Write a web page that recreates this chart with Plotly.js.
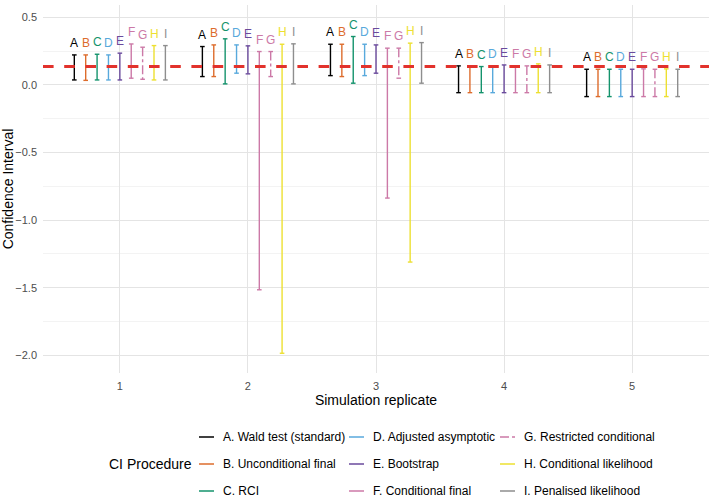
<!DOCTYPE html>
<html>
<head>
<meta charset="utf-8">
<script src="https://cdn.plot.ly/plotly-3.0.1.min.js"></script>
<style>
  html, body { margin: 0; padding: 0; background: #ffffff; }
  #chart { width: 709px; height: 501px; }
</style>
</head>
<body>
<div id="chart"></div>
<script>
// Simulation replicates on the x axis
const replicates = [1, 2, 3, 4, 5];

// CI procedures: short code, legend label, colour
const codes = ['A', 'B', 'C', 'D', 'E', 'F', 'G', 'H', 'I'];
const procedureNames = [
  'A. Wald test (standard)',
  'B. Unconditional final',
  'C. RCI',
  'D. Adjusted asymptotic',
  'E. Bootstrap',
  'F. Conditional final',
  'G. Restricted conditional',
  'H. Conditional likelihood',
  'I. Penalised likelihood'
];
const colors = ['#000000', '#DD6C2C', '#14936C', '#58A9DC', '#6A4A9C',
                '#CC79A7', '#CC79A7', '#EDE031', '#8E8E8E'];

// Lower and upper confidence limits, one row per procedure, one value per replicate
const lowerLimits = [
  [0.036, 0.061, 0.068, -0.058, -0.087],  // A
  [0.033, 0.061, 0.061, -0.058, -0.087],  // B
  [0.036, 0.007, 0.012, -0.058, -0.087],  // C
  [0.036, 0.086, 0.068, -0.058, -0.087],  // D
  [0.036, 0.081, 0.086, -0.058, -0.087],  // E
  [0.049, -1.515, -0.837, -0.058, -0.087], // F
  [0.041, 0.061, 0.049, -0.058, -0.087],  // G
  [0.036, -1.984, -1.310, -0.058, -0.087], // H
  [0.036, 0.007, 0.012, -0.058, -0.087]   // I
];
const upperLimits = [
  [0.221, 0.283, 0.300, 0.140, 0.115],  // A
  [0.221, 0.295, 0.300, 0.140, 0.115],  // B
  [0.226, 0.340, 0.357, 0.135, 0.115],  // C
  [0.221, 0.295, 0.300, 0.140, 0.115],  // D
  [0.234, 0.288, 0.295, 0.147, 0.115],  // E
  [0.302, 0.246, 0.271, 0.140, 0.118],  // F
  [0.278, 0.246, 0.271, 0.140, 0.115],  // G
  [0.290, 0.300, 0.308, 0.155, 0.118],  // H
  [0.290, 0.303, 0.312, 0.147, 0.115]   // I
];

// True parameter value shown as the reference line
const trueValue = 0.135;

const FONT = 'Liberation Sans, Arial, Helvetica, sans-serif';
const nProc = codes.length;
const dodgeWidth = 0.8;
const capHalf = 0.018;

const traces = [];
const annotations = [];
for (let p = 0; p < nProc; p++) {
  const off = (p - (nProc - 1) / 2) * dodgeWidth / nProc;
  const xs = [], ys = [];
  replicates.forEach((r, k) => {
    const xc = r + off, lo = lowerLimits[p][k], up = upperLimits[p][k];
    xs.push(xc - capHalf, xc + capHalf, null, xc, xc, null, xc - capHalf, xc + capHalf, null);
    ys.push(up, up, null, up, lo, null, lo, lo, null);
    // procedure letter just above the upper limit
    annotations.push({
      xref: 'x', yref: 'y', x: xc, y: up, xanchor: 'center', yanchor: 'bottom',
      yshift: 3, showarrow: false, text: codes[p],
      font: { family: FONT, size: 12, color: colors[p] }
    });
  });
  traces.push({
    type: 'scatter', mode: 'lines', x: xs, y: ys,
    line: { color: colors[p], width: 1.4, dash: codes[p] === 'G' ? 'dashdot' : 'solid' },
    hoverinfo: 'skip', showlegend: false
  });
}

// Plot area geometry (pixels) used to place the hand-built legend
const W = 709, H = 501;
const M = { l: 43, r: 0, t: 5, b: 128 };
const pw = W - M.l - M.r, ph = H - M.t - M.b;
const px2x = v => (v - M.l) / pw;
const px2y = v => (H - M.b - v) / ph;

const shapes = [{
  type: 'line', xref: 'paper', yref: 'y', x0: 0, x1: 1, y0: trueValue, y1: trueValue,
  line: { color: '#E2322C', width: 3, dash: '10.6px,10.6px' }, layer: 'above'
}];
annotations.push({
  xref: 'paper', yref: 'paper', x: px2x(194), y: px2y(464),
  xanchor: 'right', yanchor: 'middle', showarrow: false,
  text: 'CI Procedure', font: { family: FONT, size: 14, color: '#000000' }
});
const colKey = [199, 349, 500];
const rowY = [437, 464, 491];
for (let p = 0; p < nProc; p++) {
  const c = Math.floor(p / 3), rw = p % 3;
  shapes.push({
    type: 'line', xref: 'paper', yref: 'paper',
    x0: px2x(colKey[c]), x1: px2x(colKey[c] + 15), y0: px2y(rowY[rw]), y1: px2y(rowY[rw]),
    line: { color: colors[p], width: 1.5, dash: codes[p] === 'G' ? 'dashdot' : 'solid' }
  });
  annotations.push({
    xref: 'paper', yref: 'paper', x: px2x(colKey[c] + 22), y: px2y(rowY[rw]),
    xanchor: 'left', yanchor: 'middle', showarrow: false,
    text: procedureNames[p], font: { family: FONT, size: 12, color: '#000000' }
  });
}

const layout = {
  width: W, height: H,
  margin: M,
  paper_bgcolor: '#ffffff', plot_bgcolor: '#ffffff',
  showlegend: false,
  font: { family: FONT },
  xaxis: {
    range: [0.4, 5.6], tickmode: 'array', tickvals: replicates, ticktext: replicates.map(String),
    showgrid: true, gridcolor: '#E4E4E4', gridwidth: 1, zeroline: false, showline: false,
    ticks: '', ticklabelstandoff: 5,
    tickfont: { family: FONT, size: 11, color: '#4D4D4D' },
    title: { text: 'Simulation replicate', font: { family: FONT, size: 14, color: '#000000' }, standoff: 4 }
  },
  yaxis: {
    range: [-2.13, 0.59], tickmode: 'linear', tick0: 0, dtick: 0.5, tickformat: '.1f',
    showgrid: true, gridcolor: '#E4E4E4', gridwidth: 1, zeroline: false, showline: false,
    minor: { tickmode: 'linear', tick0: 0, dtick: 0.25, showgrid: true, gridcolor: '#F0F0F0', gridwidth: 0.8 },
    ticks: '', ticklabelstandoff: 5,
    tickfont: { family: FONT, size: 11, color: '#4D4D4D' },
    title: { text: 'Confidence Interval', font: { family: FONT, size: 14, color: '#000000' } }
  },
  shapes: shapes,
  annotations: annotations
};

Plotly.newPlot('chart', traces, layout, { displayModeBar: false, staticPlot: true });
</script>
</body>
</html>
